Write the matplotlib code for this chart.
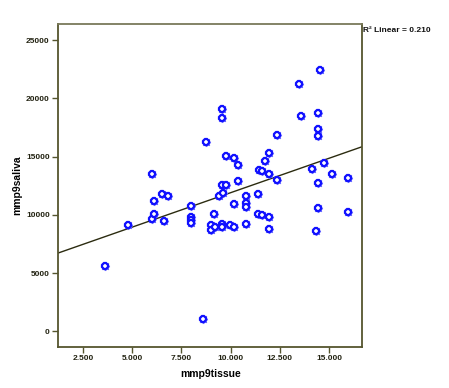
import numpy as np
import matplotlib
matplotlib.use("Agg")
import matplotlib.pyplot as plt
from matplotlib.ticker import FixedLocator

# mmp9 tissue vs saliva
mmp9tissue = [3618, 4802, 6006, 6108, 6108, 5991, 6489, 6794, 6616, 7973,
              7973, 7973, 7973, 8582, 8765, 8989, 8989, 9172, 9182, 9385,
              9588, 9578, 9578, 9578, 9766, 9578, 9578, 9782, 9985, 10183,
              10183, 10183, 10376, 10376, 10767, 10767, 10767, 10767, 11367, 11367,
              11580, 11458, 11596, 11763, 11951, 11966, 11966, 11961, 12358, 12368,
              13460, 13562, 14456, 14456, 14456, 14558, 14746, 14151, 15152, 15950,
              14456, 14456, 15950, 14350]
mmp9saliva = [5604, 9097, 9612, 10110, 11157, 13474, 11783, 11638, 9509, 10797,
              9852, 9569, 9269, 1056, 16220, 9166, 8668, 10110, 8994, 11612,
              11895, 9252, 8968, 12556, 12556, 19053, 18323, 15070, 9097, 8951,
              14873, 10908, 14255, 12925, 11629, 11037, 10693, 9226, 11826, 10093,
              10024, 13817, 13731, 14598, 15285, 13500, 9835, 8797, 16847, 13028,
              21250, 18452, 18752, 17388, 16787, 22425, 14461, 13955, 13474, 13139,
              12710, 10556, 10213, 8651]

x_ticks = [2500, 5000, 7500, 10000, 12500, 15000]
x_ticklabels = ["2.500", "5.000", "7.500", "10.000", "12.500", "15.000"]
y_ticks = [0, 5000, 10000, 15000, 20000, 25000]
y_ticklabels = ["0", "5000", "10000", "15000", "20000", "25000"]
r2_text = "R\u00b2 Linear = 0.210"

plt.rcParams['font.family'] = ['Liberation Sans', 'DejaVu Sans']

spine_col = '#55552e'
fig = plt.figure(figsize=(4.49, 3.88), dpi=100)
ax = fig.add_axes([0.1292, 0.1064, 0.6777, 0.8317])

x = np.array(mmp9tissue, dtype=float)
y = np.array(mmp9saliva, dtype=float)

xmin, xmax = 1230, 16690
ax.set_xlim(xmin, xmax)
ax.set_ylim(-1320, 26380)

# linear fit line
b, a = np.polyfit(x, y, 1)
xs = np.array([xmin, xmax])
ax.plot(xs, a + b * xs, color='#2b2b10', lw=1.0, zorder=2)

# spiky blue ring markers (SPSS style)
ax.plot(x, y, linestyle='none', marker=(8, 2, 0), markersize=6.5,
        markeredgecolor='#6a6aff', markeredgewidth=1.0, zorder=3)
ax.plot(x, y, linestyle='none', marker='8', markersize=4.5,
        markerfacecolor='white', markeredgecolor='#1010ff', markeredgewidth=1.6,
        zorder=4)

ax.xaxis.set_major_locator(FixedLocator(x_ticks))
ax.set_xticklabels(x_ticklabels)
ax.yaxis.set_major_locator(FixedLocator(y_ticks))
ax.set_yticklabels(y_ticklabels)
ax.tick_params(direction='out', length=4, width=1, color=spine_col,
               labelsize=6, pad=2)
for lab in ax.get_xticklabels() + ax.get_yticklabels():
    lab.set_fontweight('bold')
    lab.set_color('#222211')

for s in ax.spines.values():
    s.set_color(spine_col)
    s.set_linewidth(1.3)
ax.spines['top'].set_color('#7a7a5a')

ax.set_xlabel('mmp9tissue', fontsize=7.5, fontweight='bold', labelpad=5)
ax.set_ylabel('mmp9saliva', fontsize=7.5, fontweight='bold', labelpad=3)

fig.text(0.809, 0.922, r2_text, fontsize=6, fontweight='bold',
         ha='left', va='center', color='#111111')

fig.savefig('out.png', dpi=100)
